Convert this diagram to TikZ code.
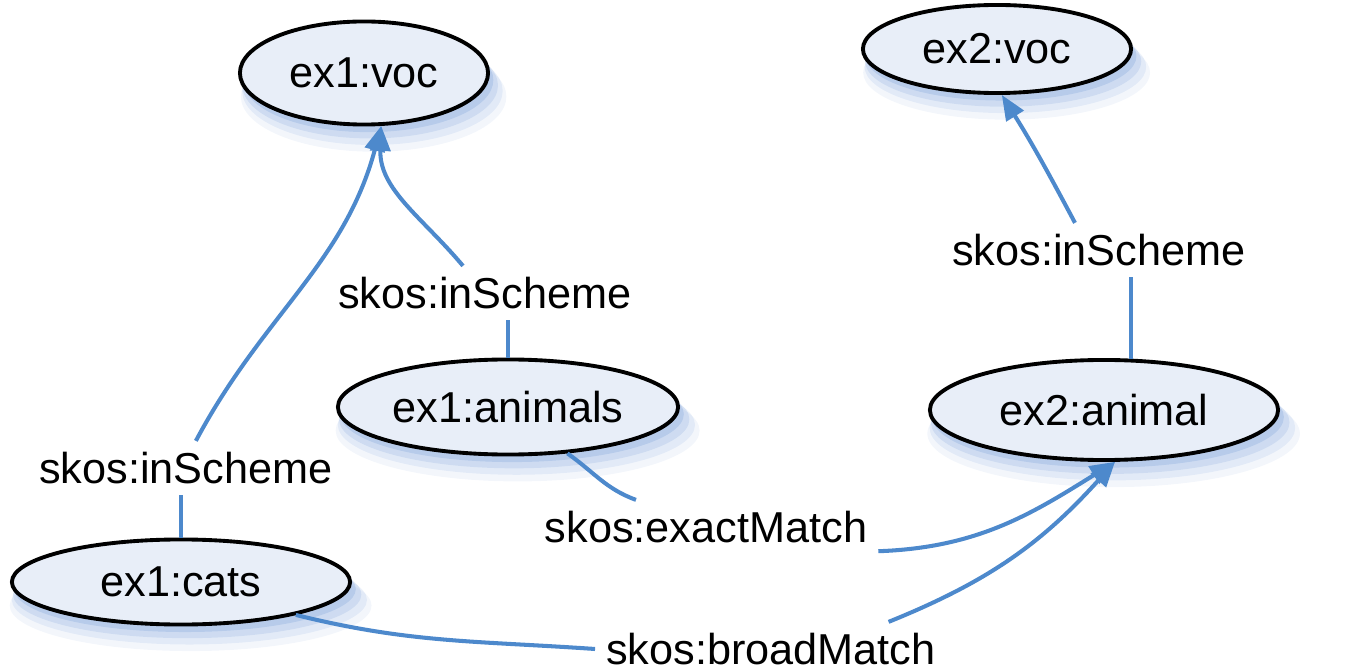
\documentclass[tikz,border=0pt]{standalone}
\usepackage{fontspec}
\setmainfont{Liberation Sans}
\usetikzlibrary{shapes.geometric,arrows.meta,shadows}

\definecolor{edgeblue}{RGB}{77,137,204}
\definecolor{nodefill}{RGB}{232,238,248}
\definecolor{shadeblue}{RGB}{80,128,205}

\tikzset{
  concept/.style={draw=black, line width=1.1pt, ellipse, fill=nodefill, inner sep=0pt,
    font=\fontsize{12.3}{14}\selectfont,
    general shadow={fill=shadeblue, opacity=0.07, shadow xshift=0.09cm, shadow yshift=-0.22cm, shadow scale=1.07},
    general shadow={fill=shadeblue, opacity=0.10, shadow xshift=0.08cm, shadow yshift=-0.17cm, shadow scale=1.05},
    general shadow={fill=shadeblue, opacity=0.14, shadow xshift=0.06cm, shadow yshift=-0.12cm, shadow scale=1.03},
    general shadow={fill=shadeblue, opacity=0.18, shadow xshift=0.04cm, shadow yshift=-0.07cm, shadow scale=1.01}},
  prop/.style={font=\fontsize{12.3}{14}\selectfont, inner sep=3pt},
  link/.style={draw=edgeblue, line width=1.15pt},
  arc/.style={link, -{Triangle[length=0.25cm,width=0.2cm]}}
}

\begin{document}
\begin{tikzpicture}[x=0.01cm, y=0.01cm]
  \useasboundingbox (0,0) rectangle (1354,-670);

  % concepts
  \node[concept, minimum width=2.48cm, minimum height=1.03cm] (voc1) at (364,-73) {ex1:voc};
  \node[concept, minimum width=2.68cm, minimum height=0.88cm] (voc2) at (997,-49) {ex2:voc};
  \node[concept, minimum width=3.40cm, minimum height=0.95cm] (animals) at (508,-407) {ex1:animals};
  \node[concept, minimum width=3.48cm, minimum height=1.00cm] (animal) at (1104,-410) {ex2:animal};
  \node[concept, minimum width=3.38cm, minimum height=0.85cm] (cats) at (181,-582) {ex1:cats};

  % property labels
  \node[prop] (schemeA) at (186,-468) {skos:inScheme};
  \node[prop] (schemeB) at (485,-293) {skos:inScheme};
  \node[prop] (schemeC) at (1099,-250) {skos:inScheme};
  \node[prop] (exact) at (706,-527) {skos:exactMatch};
  \node[prop] (broad) at (771,-649) {skos:broadMatch};

  % links
  \draw[link] (cats.north) -- (cats.north |- schemeA.south);
  \draw[arc] (schemeA.70) to[out=62,in=-105] (voc1.-72);
  \draw[link] (animals.north) -- (animals.north |- schemeB.south);
  \draw[arc] ([xshift=-0.22cm]schemeB.north) to[out=130,in=-92] (voc1.-72);
  \draw[link] (animal.62) -- (animal.62 |- schemeC.south);
  \draw[arc] ([xshift=-0.24cm]schemeC.north) to[out=118,in=-58] (voc2.-84);
  \draw[link] (animals.-38) to[out=-35,in=160] ([xshift=-0.7cm]exact.north);
  \draw[arc] (exact.-8) to[out=2,in=-148] (animal.-78);
  \draw[link] (cats.-16) to[out=-14,in=176] (broad.west);
  \draw[arc] (broad.13) to[out=22,in=-132] (animal.-78);
\end{tikzpicture}
\end{document}
